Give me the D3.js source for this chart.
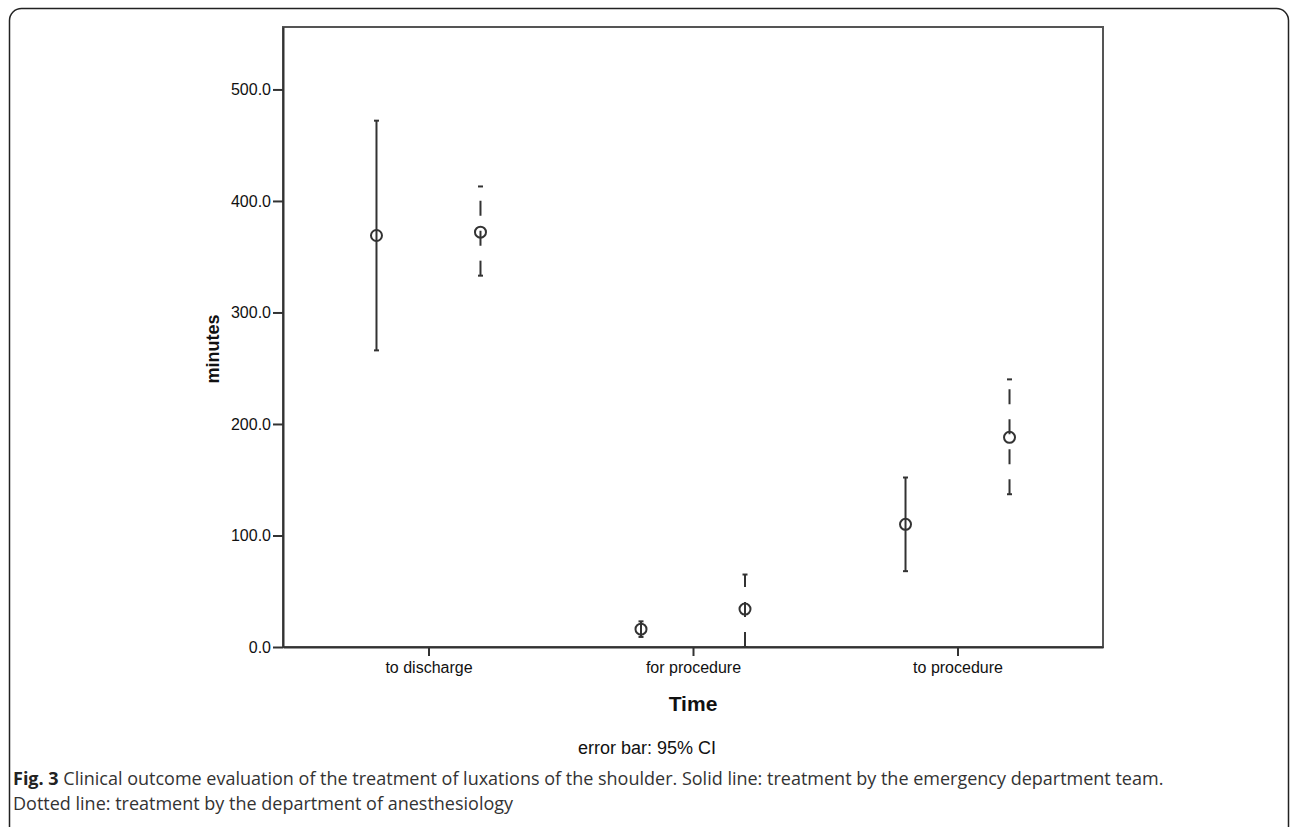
<!DOCTYPE html>
<html>
<head>
<meta charset="utf-8">
<script src="https://cdn.jsdelivr.net/npm/d3@7"></script>
<style>
  html, body { margin: 0; padding: 0; background: #fff; }
  svg { display: block; }
</style>
</head>
<body>
<svg id="chart" width="1290" height="827"></svg>
<script>
// ---- data ----
const categories = ["to discharge", "for procedure", "to procedure"];
const groups = ["emergency department team", "department of anesthesiology"];
const emergencyMean  = [369, 16, 110];
const emergencyLower = [266, 9, 68];
const emergencyUpper = [472, 23, 152];
const anesthMean  = [372, 34, 188];
const anesthLower = [333, 0, 137];
const anesthUpper = [413, 65, 240];
const yTicks = [0, 100, 200, 300, 400, 500];

const svg = d3.select("#chart");
const plot = { left: 283, right: 1103, top: 27, bottom: 647 };

// outer rounded frame
svg.append("rect")
  .attr("x", 9.5).attr("y", 8.5)
  .attr("width", 1279).attr("height", 840)
  .attr("rx", 12).attr("ry", 12)
  .attr("fill", "none").attr("stroke", "#222").attr("stroke-width", 1.5);

const x = d3.scalePoint().domain(categories).range([plot.left, plot.right]).padding(0.55);
const xg = d3.scalePoint().domain(groups).range([-52, 52]);
const y = d3.scaleLinear().domain([0, 556]).range([plot.bottom, plot.top]);

// plot box
svg.append("rect")
  .attr("x", plot.left).attr("y", plot.top)
  .attr("width", plot.right - plot.left).attr("height", plot.bottom - plot.top)
  .attr("fill", "none").attr("stroke", "#555").attr("stroke-width", 2);

// y axis
const yAxis = svg.append("g")
  .attr("transform", `translate(${plot.left},0)`)
  .call(d3.axisLeft(y).tickValues(yTicks).tickFormat(d3.format(".1f"))
    .tickSizeInner(10).tickSizeOuter(0).tickPadding(2));
yAxis.select(".domain").attr("stroke", "#333").attr("stroke-width", 2);
yAxis.selectAll(".tick line").attr("stroke", "#333").attr("stroke-width", 2);
yAxis.selectAll(".tick text")
  .attr("fill", "#111")
  .style("font-family", "Liberation Sans, Arial, sans-serif")
  .style("font-size", "16px");

// x axis
const xAxis = svg.append("g")
  .attr("transform", `translate(0,${plot.bottom})`)
  .call(d3.axisBottom(x).tickSizeInner(9).tickSizeOuter(0).tickPadding(6));
xAxis.select(".domain").attr("stroke", "#333").attr("stroke-width", 2);
xAxis.selectAll(".tick line").attr("stroke", "#333").attr("stroke-width", 2);
xAxis.selectAll(".tick text")
  .attr("fill", "#111")
  .style("font-family", "Liberation Sans, Arial, sans-serif")
  .style("font-size", "16px");

// axis titles
svg.append("text")
  .attr("transform", `translate(219,${(plot.top + plot.bottom) / 2 + 12}) rotate(-90)`)
  .attr("text-anchor", "middle")
  .style("font-family", "Liberation Sans, Arial, sans-serif")
  .style("font-size", "18px").style("font-weight", "bold")
  .attr("fill", "#111")
  .text("minutes");

svg.append("text")
  .attr("x", x("for procedure")).attr("y", 711)
  .attr("text-anchor", "middle")
  .style("font-family", "Liberation Sans, Arial, sans-serif")
  .style("font-size", "21px").style("font-weight", "bold")
  .attr("fill", "#111")
  .text("Time");

svg.append("text")
  .attr("x", 647).attr("y", 754)
  .attr("text-anchor", "middle")
  .style("font-family", "Liberation Sans, Arial, sans-serif")
  .style("font-size", "18px")
  .attr("fill", "#111")
  .text("error bar: 95% CI");

// error bars
const series = [
  { group: groups[0], mean: emergencyMean, lower: emergencyLower, upper: emergencyUpper, dash: null },
  { group: groups[1], mean: anesthMean, lower: anesthLower, upper: anesthUpper, dash: "15,15" }
];

series.forEach(s => {
  const g = svg.append("g");
  categories.forEach((c, i) => {
    const cx = x(c) + xg(s.group);
    g.append("line")
      .attr("x1", cx).attr("x2", cx)
      .attr("y1", y(s.lower[i])).attr("y2", y(s.upper[i]))
      .attr("stroke", "#333").attr("stroke-width", 2)
      .attr("stroke-dasharray", s.dash);
    [s.upper[i], s.lower[i]].forEach(v => {
      g.append("line")
        .attr("x1", cx - 2.5).attr("x2", cx + 2.5)
        .attr("y1", y(v)).attr("y2", y(v))
        .attr("stroke", "#333").attr("stroke-width", 2);
    });
    g.append("circle")
      .attr("cx", cx).attr("cy", y(s.mean[i])).attr("r", 5.5)
      .attr("fill", "none").attr("stroke", "#333").attr("stroke-width", 2);
  });
});

// caption
const cap = svg.append("g")
  .style("font-family", "Open Sans, sans-serif")
  .style("font-size", "18px")
  .attr("fill", "#333");
const l1 = cap.append("text").attr("x", 13).attr("y", 785);
l1.append("tspan").style("font-weight", "bold").attr("fill", "#222").text("Fig. 3");
l1.append("tspan").text(" Clinical outcome evaluation of the treatment of luxations of the shoulder. Solid line: treatment by the emergency department team.");
cap.append("text").attr("x", 13).attr("y", 810)
  .text("Dotted line: treatment by the department of anesthesiology");
</script>
</body>
</html>
